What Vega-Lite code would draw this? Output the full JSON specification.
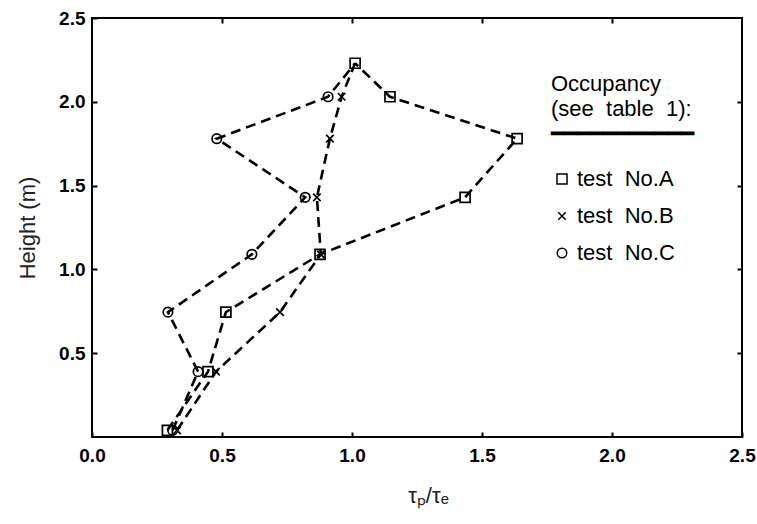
{
  "$schema": "https://vega.github.io/schema/vega-lite/v6.json",
  "width": 650,
  "height": 419,
  "autosize": "none",
  "padding": {"left": 92, "top": 18, "right": 15, "bottom": 87},
  "background": "white",
  "data": {
    "values": [
      {"test": "A", "tau": 0.29, "height": 0.04},
      {"test": "A", "tau": 0.446, "height": 0.39},
      {"test": "A", "tau": 0.515, "height": 0.745},
      {"test": "A", "tau": 0.877, "height": 1.09},
      {"test": "A", "tau": 1.435, "height": 1.43},
      {"test": "A", "tau": 1.635, "height": 1.78},
      {"test": "A", "tau": 1.146, "height": 2.03},
      {"test": "A", "tau": 1.012, "height": 2.23},
      {"test": "B", "tau": 0.327, "height": 0.04},
      {"test": "B", "tau": 0.477, "height": 0.39},
      {"test": "B", "tau": 0.723, "height": 0.745},
      {"test": "B", "tau": 0.88, "height": 1.09},
      {"test": "B", "tau": 0.865, "height": 1.43},
      {"test": "B", "tau": 0.915, "height": 1.78},
      {"test": "B", "tau": 0.96, "height": 2.03},
      {"test": "B", "tau": 1.012, "height": 2.23},
      {"test": "C", "tau": 0.31, "height": 0.04},
      {"test": "C", "tau": 0.408, "height": 0.39},
      {"test": "C", "tau": 0.292, "height": 0.745},
      {"test": "C", "tau": 0.615, "height": 1.09},
      {"test": "C", "tau": 0.82, "height": 1.43},
      {"test": "C", "tau": 0.48, "height": 1.78},
      {"test": "C", "tau": 0.908, "height": 2.03},
      {"test": "C", "tau": 1.012, "height": 2.23}
    ]
  },
  "layer": [
    {
      "mark": {"type": "line", "stroke": "black", "strokeWidth": 2.6, "strokeDash": [10, 6]},
      "encoding": {
        "x": {
          "field": "tau", "type": "quantitative",
          "scale": {"domain": [0, 2.5], "nice": false, "zero": false},
          "axis": {"orient": "bottom", "values": [0, 0.5, 1, 1.5, 2, 2.5], "format": ".1f", "title": "τₚ/τₑ", "titlePadding": 20, "labelPadding": 14, "titleX": 336, "titleFontSize": 22}
        },
        "y": {
          "field": "height", "type": "quantitative",
          "scale": {"domain": [0, 2.5], "nice": false, "zero": false},
          "axis": {"orient": "left", "values": [0.5, 1, 1.5, 2, 2.5], "format": ".1f", "title": "Height  (m)", "titlePadding": 19, "labelPadding": 12}
        },
        "detail": {"field": "test"},
        "order": {"field": "height", "type": "quantitative"}
      }
    },
    {
      "transform": [{"filter": "datum.test == 'A' || datum.height < 2.2"}],
      "mark": {"type": "point", "filled": false, "color": "black", "strokeWidth": 1.7, "size": 100, "opacity": 1},
      "encoding": {
        "x": {
          "field": "tau", "type": "quantitative",
          "axis": {"orient": "top", "values": [0.5, 1, 1.5, 2], "labels": false, "title": null}
        },
        "y": {
          "field": "height", "type": "quantitative",
          "axis": {"orient": "right", "values": [0.5, 1, 1.5, 2], "labels": false, "title": null}
        },
        "shape": {
          "field": "test", "type": "nominal",
          "scale": {"domain": ["A", "B", "C"], "range": ["M-1,-1H1V1H-1Z", "M-0.75,-0.75L0.75,0.75M-0.75,0.75L0.75,-0.75", "M-0.95,0A0.95,0.95,0,1,1,0.95,0A0.95,0.95,0,1,1,-0.95,0Z"]},
          "legend": {
            "title": ["Occupancy", "(see\u00a0\u00a0table\u00a0\u00a01):", "━━━━━━━━━━━"],
            "orient": "none",
            "legendX": 459,
            "legendY": 56,
            "labelExpr": "'test\u00a0\u00a0No.' + datum.label",
            "titleLineHeight": 25,
            "titlePadding": 22,
            "rowPadding": 15
          }
        }
      }
    }
  ],
  "resolve": {"axis": {"x": "independent", "y": "independent"}},
  "config": {
    "view": {"stroke": "black", "strokeWidth": 2},
    "font": "Liberation Sans",
    "axis": {
      "domain": false,
      "grid": false,
      "tickSize": -5,
      "tickColor": "black",
      "tickWidth": 2,
      "labelFlush": false,
      "labelFont": "Liberation Sans",
      "labelFontSize": 19,
      "labelFontWeight": "bold",
      "labelColor": "black",
      "titleFont": "Liberation Sans",
      "titleFontSize": 22,
      "titleFontWeight": "normal",
      "titleColor": "#222"
    },
    "legend": {
      "titleFont": "Liberation Sans",
      "titleFontSize": 22,
      "titleFontWeight": "normal",
      "titleColor": "black",
      "labelFont": "Liberation Sans",
      "labelFontSize": 22,
      "labelColor": "black"
    }
  }
}
